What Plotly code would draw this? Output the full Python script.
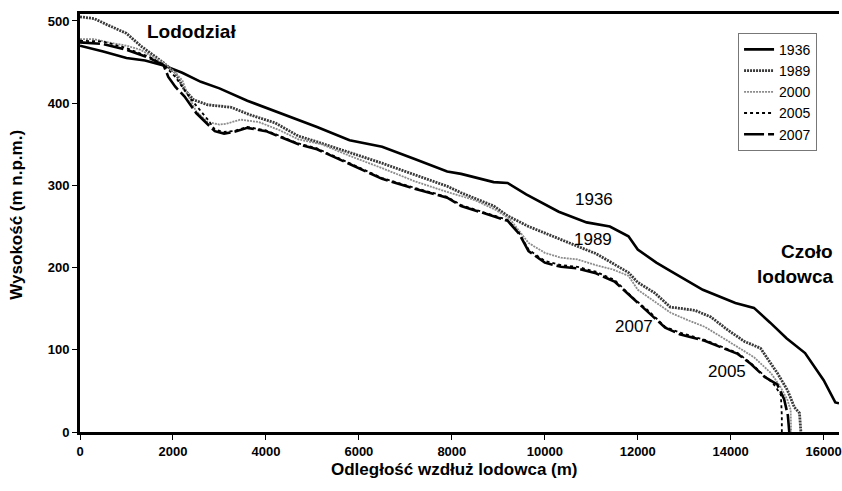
import plotly.graph_objects as go

# ---- data (distance along glacier [m], elevation [m a.s.l.]) ----
x_1936 = [0, 500, 1000, 1400, 1800, 2200, 2600, 3000, 3600, 4300, 4700, 5100, 5800, 6500, 7200, 7900, 8200, 8900, 9200, 9600, 10300, 10900, 11400, 11800, 12000, 12400, 12700, 13400, 14100, 14500, 14850, 15200, 15600, 15850, 16000, 16250, 16330]
y_1936 = [470, 463, 455, 452, 446, 437, 426, 418, 403, 388, 380, 371, 355, 347, 332, 317, 314, 304, 303, 289, 268, 255, 250, 238, 222, 206, 196, 173, 157, 151, 133, 114, 96, 76, 63, 36, 35]

x_1989 = [0, 300, 600, 1000, 1300, 1800, 2050, 2250, 2450, 2750, 3250, 3650, 4200, 4700, 5100, 5600, 6500, 7200, 7900, 8200, 8900, 9200, 9650, 10350, 11100, 11800, 12000, 12370, 12700, 13230, 13570, 13940, 14300, 14640, 15000, 15220, 15370, 15480, 15500, 15510]
y_1989 = [505, 503, 495, 485, 470, 449, 437, 416, 404, 398, 395, 386, 376, 360, 353, 344, 327, 313, 299, 291, 275, 263, 250, 234, 217, 194, 182, 169, 152, 148, 140, 124, 110, 102, 72, 51, 30, 23, 10, 0]

x_2000 = [0, 300, 600, 1000, 1300, 1800, 2050, 2200, 2320, 2500, 2750, 3000, 3150, 3450, 3850, 4300, 4700, 5200, 5800, 6500, 7200, 7900, 8500, 8950, 9250, 9650, 10000, 10350, 10700, 11100, 11450, 11800, 12000, 12370, 12710, 13080, 13440, 13790, 14150, 14500, 14860, 15070, 15220, 15290, 15300]
y_2000 = [478, 478, 474, 470, 465, 449, 437, 428, 410, 390, 377, 374, 375, 380, 377, 367, 356, 350, 336, 321, 305, 292, 282, 270, 259, 230, 218, 212, 210, 203, 198, 190, 173, 158, 145, 136, 128, 116, 103, 91, 72, 55, 39, 27, 0]

x_2005 = [0, 500, 1000, 1500, 1800, 2050, 2400, 2750, 2900, 3100, 3300, 3600, 4000, 4700, 5100, 5800, 6500, 7200, 7900, 8200, 8900, 9200, 9450, 9650, 10000, 10350, 10700, 11100, 11500, 11730, 11940, 12220, 12590, 12900, 13440, 14150, 14430, 14730, 14900, 15000, 15080, 15100, 15100]
y_2005 = [476, 475, 467, 456, 447, 432, 404, 380, 368, 365, 366, 371, 367, 351, 345, 327, 309, 297, 286, 276, 264, 258, 242, 222, 208, 203, 201, 195, 185, 173, 161, 148, 128, 121, 112, 96, 84, 68, 60, 52, 45, 20, 0]

x_2007 = [0, 500, 1000, 1500, 1800, 1900, 2050, 2250, 2500, 2750, 2900, 3100, 3300, 3600, 4000, 4700, 5100, 5800, 6500, 7200, 7900, 8200, 8900, 9200, 9450, 9650, 10000, 10350, 10700, 11100, 11500, 11730, 11940, 12220, 12590, 12900, 13440, 14150, 14430, 14730, 15000, 15150, 15230, 15260]
y_2007 = [474, 472, 465, 455, 446, 432, 420, 408, 388, 374, 366, 363, 365, 370, 366, 350, 344, 326, 308, 296, 285, 275, 263, 257, 241, 220, 206, 201, 199, 193, 183, 171, 160, 146, 127, 119, 111, 95, 83, 67, 58, 40, 20, 0]

x_ticks = [0, 2000, 4000, 6000, 8000, 10000, 12000, 14000, 16000]
y_ticks = [0, 100, 200, 300, 400, 500]

FONT = "Arial, Liberation Sans, sans-serif"

fig = go.Figure()
fig.add_trace(go.Scatter(x=x_1936, y=y_1936, name="1936", mode="lines",
                         line=dict(color="#000000", width=2.6)))
fig.add_trace(go.Scatter(x=x_1989, y=y_1989, name="1989", mode="lines",
                         line=dict(color="#3a3a3a", width=2.8, dash="2px,1px")))
fig.add_trace(go.Scatter(x=x_2000, y=y_2000, name="2000", mode="lines",
                         line=dict(color="#8c8c8c", width=1.8, dash="2px,1px")))
fig.add_trace(go.Scatter(x=x_2005, y=y_2005, name="2005", mode="lines",
                         line=dict(color="#000000", width=1.8, dash="3px,3px")))
fig.add_trace(go.Scatter(x=x_2007, y=y_2007, name="2007", mode="lines",
                         line=dict(color="#000000", width=2.6, dash="20px,4px")))

ann_style = dict(showarrow=False, font=dict(family=FONT, size=17, color="#000"))
annotations = [
    dict(x=2400, y=487, xref="x", yref="y", text="<b>Lododział</b>",
         font=dict(family=FONT, size=19, color="#000"), showarrow=False),
    dict(x=16240, y=220, xref="x", yref="y", text="<b>Czoło</b>", xanchor="right",
         font=dict(family=FONT, size=19, color="#000"), showarrow=False),
    dict(x=16240, y=189, xref="x", yref="y", text="<b>lodowca</b>", xanchor="right",
         font=dict(family=FONT, size=19, color="#000"), showarrow=False),
    dict(x=11060, y=283, xref="x", yref="y", text="1936", **ann_style),
    dict(x=11040, y=234, xref="x", yref="y", text="1989", **ann_style),
    dict(x=11915, y=128, xref="x", yref="y", text="2007", **ann_style),
    dict(x=13930, y=73, xref="x", yref="y", text="2005", **ann_style),
    dict(x=0.494, y=-0.0909, xref="paper", yref="paper", xanchor="center", yanchor="middle",
         text="<b>Odległość wzdłuż lodowca (m)</b>",
         font=dict(family=FONT, size=17, color="#000"), showarrow=False),
    dict(x=-0.083, y=0.52, xref="paper", yref="paper", xanchor="center", yanchor="middle",
         text="<b>Wysokość (m n.p.m.)</b>",
         textangle=-90, font=dict(family=FONT, size=17, color="#000"), showarrow=False),
]

fig.update_layout(
    width=842, height=491,
    margin=dict(l=80, r=0, t=14, b=59),
    paper_bgcolor="white", plot_bgcolor="white",
    font=dict(family=FONT, color="#000"),
    showlegend=True,
    legend=dict(x=0.867, y=0.955, xanchor="left", yanchor="top",
                bgcolor="white", bordercolor="#777", borderwidth=1,
                font=dict(family=FONT, size=14, color="#000"),
                itemwidth=30, tracegroupgap=0),
    annotations=annotations,
)
fig.update_xaxes(range=[0, 16330], tickvals=x_ticks, ticktext=[str(v) for v in x_ticks],
                 showgrid=False, zeroline=False, showline=True, linecolor="#000", linewidth=3,
                 mirror=True, ticks="outside", ticklen=5, tickwidth=1, tickcolor="#000",
                 ticklabeloverflow="allow",
                 tickfont=dict(family=FONT, size=13, color="#000", weight="bold"))
fig.update_yaxes(range=[0, 508.5], tickvals=y_ticks, ticktext=[str(v) for v in y_ticks],
                 showgrid=False, zeroline=False, showline=True, linecolor="#000", linewidth=3,
                 ticks="outside", ticklen=5, tickwidth=1, tickcolor="#000",
                 tickfont=dict(family=FONT, size=13, color="#000", weight="bold"))

# remove the browser's default 8px body margin so the figure fills the 842x491 window exactly
fig.write_html("out.html", config={"displayModeBar": False},
               post_script="document.body.style.margin='0';document.body.style.overflow='hidden';")
